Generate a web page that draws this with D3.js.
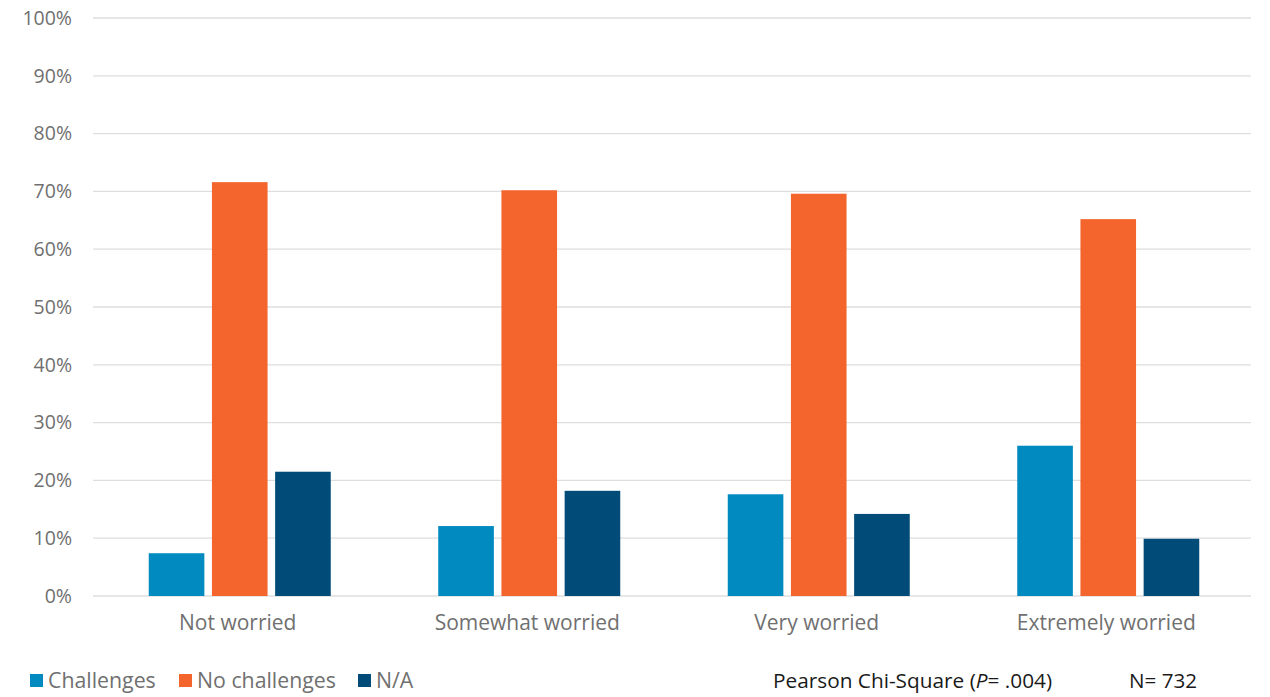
<!DOCTYPE html>
<html>
<head>
<meta charset="utf-8">
<script src="https://cdn.jsdelivr.net/npm/d3@7"></script>
<style>
  body { margin: 0; background: #fff; }
  svg text { font-family: "Open Sans", "Noto Sans", sans-serif; }
</style>
</head>
<body>
<div id="chart"></div>
<script>
// chart data
const categories = ["Not worried", "Somewhat worried", "Very worried", "Extremely worried"];
const seriesNames = ["Challenges", "No challenges", "N/A"];
const challenges = [7.4, 12.1, 17.6, 26.0];
const noChallenges = [71.6, 70.2, 69.6, 65.2];
const notApplicable = [21.5, 18.2, 14.2, 9.9];
const yTicks = [0, 10, 20, 30, 40, 50, 60, 70, 80, 90, 100];
const colors = ["#008ac0", "#f4652d", "#004b77"];

const width = 1270, height = 697;
const margin = { top: 18, right: 19, bottom: 101, left: 93 };

const svg = d3.select("#chart").append("svg")
  .attr("width", width)
  .attr("height", height);

const innerW = width - margin.left - margin.right;
const innerH = height - margin.top - margin.bottom;

const chartArea = svg.append("g")
  .attr("transform", `translate(${margin.left},${margin.top})`);

const x = d3.scaleBand().domain(categories).range([0, innerW]).paddingInner(0).paddingOuter(0);
const y = d3.scaleLinear().domain([0, 100]).range([innerH, 0]);

// bars inside each category
const xInner = d3.scaleBand().domain(seriesNames).range([0, 182]).paddingInner(0.12);

// gridlines
chartArea.selectAll(".grid")
  .data(yTicks)
  .enter()
  .append("line")
  .attr("x1", 0)
  .attr("x2", innerW)
  .attr("y1", d => y(d))
  .attr("y2", d => y(d))
  .attr("stroke", "#dedede")
  .attr("stroke-width", 1.3);

// y axis labels
const yAxis = d3.axisLeft(y).tickValues(yTicks).tickFormat(d => d + "%").tickSize(0).tickPadding(21);
chartArea.append("g").call(yAxis)
  .call(g => g.select(".domain").remove())
  .call(g => g.selectAll("text")
    .attr("fill", "#707070")
    .attr("font-size", 19.5));

// x axis labels
const xAxis = d3.axisBottom(x).tickSize(0).tickPadding(19);
chartArea.append("g")
  .attr("transform", `translate(0,${innerH})`)
  .call(xAxis)
  .call(g => g.select(".domain").remove())
  .call(g => g.selectAll("text")
    .attr("fill", "#707070")
    .attr("font-size", 21));

const rows = categories.map((c, i) => ({
  category: c,
  values: [challenges[i], noChallenges[i], notApplicable[i]]
}));

const groups = chartArea.selectAll(".cat")
  .data(rows)
  .enter()
  .append("g")
  .attr("transform", d => `translate(${x(d.category) + x.bandwidth() / 2 - 89},0)`);

groups.selectAll("rect")
  .data(d => d.values.map((v, j) => ({ series: seriesNames[j], value: v, idx: j })))
  .enter()
  .append("rect")
  .attr("x", d => xInner(d.series))
  .attr("width", xInner.bandwidth())
  .attr("y", d => y(d.value))
  .attr("height", d => innerH - y(d.value))
  .attr("fill", d => colors[d.idx]);

// legend
const legendX = [30, 179, 358];
const legend = svg.append("g");
seriesNames.forEach((name, i) => {
  legend.append("rect")
    .attr("x", legendX[i])
    .attr("y", 674)
    .attr("width", 13)
    .attr("height", 13)
    .attr("fill", colors[i]);
  legend.append("text")
    .attr("x", legendX[i] + 18)
    .attr("y", 688)
    .attr("fill", "#707070")
    .attr("font-size", 21.3)
    .text(name);
});

// footnote
const note = svg.append("text")
  .attr("x", 773)
  .attr("y", 688)
  .attr("fill", "#1a1a1a")
  .attr("font-size", 20.8);
note.append("tspan").text("Pearson Chi-Square (");
note.append("tspan").attr("font-style", "italic").text("P");
note.append("tspan").text("= .004)");

svg.append("text")
  .attr("x", 1129)
  .attr("y", 688)
  .attr("fill", "#1a1a1a")
  .attr("font-size", 20.6)
  .text("N= 732");
</script>
</body>
</html>
